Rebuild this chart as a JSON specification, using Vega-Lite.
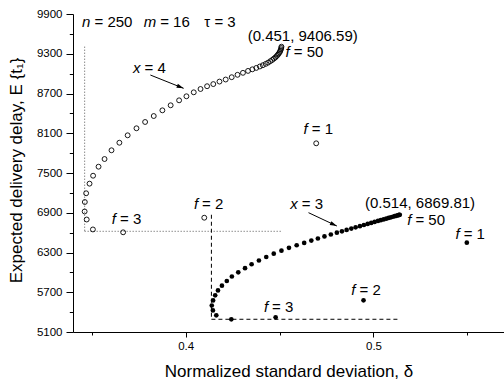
{
  "$schema": "https://vega.github.io/schema/vega-lite/v6.json",
  "width": 431,
  "height": 318,
  "autosize": {"type": "none"},
  "padding": {"left": 73, "top": 14, "right": 0, "bottom": 53},
  "config": {
    "view": {"stroke": null},
    "font": "Liberation Sans",
    "axis": {
      "domainColor": "black", "tickColor": "black", "labelColor": "black", "titleColor": "black",
      "labelFont": "Liberation Sans", "titleFont": "Liberation Sans",
      "labelFontSize": 11.5, "titleFontSize": 17, "titleFontWeight": "normal",
      "grid": false, "domainWidth": 1, "tickWidth": 1
    },
    "text": {"font": "Liberation Sans", "fontSize": 15, "color": "black"}
  },
  "resolve": {"axis": {"y": "independent"}},
  "datasets": {
    "pts": [
      {"s": "o", "f": 1, "d": 0.4695, "e": 7948},
      {"s": "o", "f": 2, "d": 0.4099, "e": 6825},
      {"s": "o", "f": 3, "d": 0.3667, "e": 6605},
      {"s": "o", "f": 4, "d": 0.3506, "e": 6648},
      {"s": "o", "f": 5, "d": 0.3473, "e": 6798},
      {"s": "o", "f": 6, "d": 0.3462, "e": 6919},
      {"s": "o", "f": 7, "d": 0.3463, "e": 7062},
      {"s": "o", "f": 8, "d": 0.3470, "e": 7194},
      {"s": "o", "f": 9, "d": 0.3488, "e": 7339},
      {"s": "o", "f": 10, "d": 0.3507, "e": 7459},
      {"s": "o", "f": 11, "d": 0.3536, "e": 7595},
      {"s": "o", "f": 12, "d": 0.3568, "e": 7711},
      {"s": "o", "f": 13, "d": 0.3605, "e": 7843},
      {"s": "o", "f": 14, "d": 0.3647, "e": 7957},
      {"s": "o", "f": 15, "d": 0.3691, "e": 8069},
      {"s": "o", "f": 16, "d": 0.3738, "e": 8175},
      {"s": "o", "f": 17, "d": 0.3784, "e": 8270},
      {"s": "o", "f": 18, "d": 0.3830, "e": 8360},
      {"s": "o", "f": 19, "d": 0.3876, "e": 8446},
      {"s": "o", "f": 20, "d": 0.3920, "e": 8522},
      {"s": "o", "f": 21, "d": 0.3965, "e": 8597},
      {"s": "o", "f": 22, "d": 0.4004, "e": 8658},
      {"s": "o", "f": 23, "d": 0.4043, "e": 8718},
      {"s": "o", "f": 24, "d": 0.4079, "e": 8768},
      {"s": "o", "f": 25, "d": 0.4114, "e": 8810},
      {"s": "o", "f": 26, "d": 0.4147, "e": 8842},
      {"s": "o", "f": 27, "d": 0.4180, "e": 8880},
      {"s": "o", "f": 28, "d": 0.4213, "e": 8911},
      {"s": "o", "f": 29, "d": 0.4245, "e": 8946},
      {"s": "o", "f": 30, "d": 0.4276, "e": 8982},
      {"s": "o", "f": 31, "d": 0.4305, "e": 9012},
      {"s": "o", "f": 32, "d": 0.4332, "e": 9041},
      {"s": "o", "f": 33, "d": 0.4355, "e": 9065},
      {"s": "o", "f": 34, "d": 0.4376, "e": 9086},
      {"s": "o", "f": 35, "d": 0.4395, "e": 9108},
      {"s": "o", "f": 36, "d": 0.4411, "e": 9127},
      {"s": "o", "f": 37, "d": 0.4426, "e": 9147},
      {"s": "o", "f": 38, "d": 0.4439, "e": 9166},
      {"s": "o", "f": 39, "d": 0.4451, "e": 9188},
      {"s": "o", "f": 40, "d": 0.4461, "e": 9207},
      {"s": "o", "f": 41, "d": 0.4470, "e": 9227},
      {"s": "o", "f": 42, "d": 0.4478, "e": 9246},
      {"s": "o", "f": 43, "d": 0.4485, "e": 9266},
      {"s": "o", "f": 44, "d": 0.4491, "e": 9286},
      {"s": "o", "f": 45, "d": 0.4496, "e": 9305},
      {"s": "o", "f": 46, "d": 0.4501, "e": 9325},
      {"s": "o", "f": 47, "d": 0.4504, "e": 9345},
      {"s": "o", "f": 48, "d": 0.4507, "e": 9366},
      {"s": "o", "f": 49, "d": 0.4509, "e": 9387},
      {"s": "o", "f": 50, "d": 0.451, "e": 9406.59},
      {"s": "c", "f": 1, "d": 0.5497, "e": 6448},
      {"s": "c", "f": 2, "d": 0.4947, "e": 5578},
      {"s": "c", "f": 3, "d": 0.4479, "e": 5322},
      {"s": "c", "f": 4, "d": 0.4243, "e": 5292},
      {"s": "c", "f": 5, "d": 0.4163, "e": 5352},
      {"s": "c", "f": 6, "d": 0.4145, "e": 5425},
      {"s": "c", "f": 7, "d": 0.4139, "e": 5500},
      {"s": "c", "f": 8, "d": 0.4146, "e": 5576},
      {"s": "c", "f": 9, "d": 0.4157, "e": 5654},
      {"s": "c", "f": 10, "d": 0.4172, "e": 5727},
      {"s": "c", "f": 11, "d": 0.4193, "e": 5799},
      {"s": "c", "f": 12, "d": 0.4219, "e": 5870},
      {"s": "c", "f": 13, "d": 0.4246, "e": 5938},
      {"s": "c", "f": 14, "d": 0.4280, "e": 6001},
      {"s": "c", "f": 15, "d": 0.4316, "e": 6063},
      {"s": "c", "f": 16, "d": 0.4351, "e": 6123},
      {"s": "c", "f": 17, "d": 0.4390, "e": 6179},
      {"s": "c", "f": 18, "d": 0.4429, "e": 6232},
      {"s": "c", "f": 19, "d": 0.4469, "e": 6282},
      {"s": "c", "f": 20, "d": 0.4510, "e": 6327},
      {"s": "c", "f": 21, "d": 0.4550, "e": 6370},
      {"s": "c", "f": 22, "d": 0.4591, "e": 6409},
      {"s": "c", "f": 23, "d": 0.4631, "e": 6445},
      {"s": "c", "f": 24, "d": 0.4669, "e": 6480},
      {"s": "c", "f": 25, "d": 0.4704, "e": 6511},
      {"s": "c", "f": 26, "d": 0.4739, "e": 6543},
      {"s": "c", "f": 27, "d": 0.4773, "e": 6572},
      {"s": "c", "f": 28, "d": 0.4805, "e": 6599},
      {"s": "c", "f": 29, "d": 0.4832, "e": 6620},
      {"s": "c", "f": 30, "d": 0.4857, "e": 6641},
      {"s": "c", "f": 31, "d": 0.4882, "e": 6661},
      {"s": "c", "f": 32, "d": 0.4905, "e": 6680},
      {"s": "c", "f": 33, "d": 0.4928, "e": 6698},
      {"s": "c", "f": 34, "d": 0.4949, "e": 6715},
      {"s": "c", "f": 35, "d": 0.4969, "e": 6731},
      {"s": "c", "f": 36, "d": 0.4988, "e": 6747},
      {"s": "c", "f": 37, "d": 0.5006, "e": 6762},
      {"s": "c", "f": 38, "d": 0.5024, "e": 6776},
      {"s": "c", "f": 39, "d": 0.5039, "e": 6788},
      {"s": "c", "f": 40, "d": 0.5054, "e": 6800},
      {"s": "c", "f": 41, "d": 0.5068, "e": 6811},
      {"s": "c", "f": 42, "d": 0.5081, "e": 6822},
      {"s": "c", "f": 43, "d": 0.5093, "e": 6831},
      {"s": "c", "f": 44, "d": 0.5103, "e": 6840},
      {"s": "c", "f": 45, "d": 0.5113, "e": 6848},
      {"s": "c", "f": 46, "d": 0.5121, "e": 6854},
      {"s": "c", "f": 47, "d": 0.5129, "e": 6861},
      {"s": "c", "f": 48, "d": 0.5134, "e": 6865},
      {"s": "c", "f": 49, "d": 0.5137, "e": 6867},
      {"s": "c", "f": 50, "d": 0.514, "e": 6869.81}
    ],
    "lines": [
      {"k": "dot", "x1": 0.3462, "y1": 9406.59, "x2": 0.3462, "y2": 6620},
      {"k": "dot", "x1": 0.3462, "y1": 6620, "x2": 0.451, "y2": 6620},
      {"k": "dash", "x1": 0.4137, "y1": 6869.81, "x2": 0.4137, "y2": 5292},
      {"k": "dash", "x1": 0.4137, "y1": 5292, "x2": 0.514, "y2": 5292}
    ],
    "arrows": [
      {"id": "x4", "x1": 0.3812, "y1": 8979, "x2": 0.3989, "y2": 8778},
      {"id": "x3", "x1": 0.4654, "y1": 6901, "x2": 0.4805, "y2": 6700}
    ],
    "labels": [
      {"x": 0.3493, "y": 9784, "it": "n", "rest": "= 250"},
      {"x": 0.3843, "y": 9784, "it": "m", "rest": "= 16"},
      {"x": 0.4078, "y": 9784, "it": "", "rest": "τ = 3"},
      {"x": 0.3760, "y": 9085, "it": "x", "rest": "= 4"},
      {"x": 0.4554, "y": 9319, "it": "f", "rest": "= 50"},
      {"x": 0.4650, "y": 8164, "it": "f", "rest": "= 1"},
      {"x": 0.4066, "y": 7032, "it": "f", "rest": "= 2"},
      {"x": 0.3629, "y": 6801, "it": "f", "rest": "= 3"},
      {"x": 0.4597, "y": 7032, "it": "x", "rest": "= 3"},
      {"x": 0.5202, "y": 6791, "it": "f", "rest": "= 50"},
      {"x": 0.5459, "y": 6575, "it": "f", "rest": "= 1"},
      {"x": 0.4904, "y": 5734, "it": "f", "rest": "= 2"},
      {"x": 0.4439, "y": 5482, "it": "f", "rest": "= 3"}
    ],
    "coords": [
      {"x": 0.4623, "y": 9568, "t": "(0.451, 9406.59)"},
      {"x": 0.5248, "y": 7052, "t": "(0.514, 6869.81)"}
    ]
  },
  "layer": [
    {
      "data": {"name": "lines"},
      "mark": {"type": "rule", "strokeWidth": 1},
      "encoding": {
        "x": {"field": "x1", "type": "quantitative", "scale": {"domain": [0.34, 0.5695], "nice": false, "zero": false},
          "axis": {
            "values": [0.35, 0.4, 0.45, 0.5, 0.55],
            "labelExpr": "datum.value == 0.4 || datum.value == 0.5 ? format(datum.value, '.1f') : ''",
            "tickSize": {"condition": {"test": "datum.value == 0.4 || datum.value == 0.5", "value": 5}, "value": 3},
            "labelPadding": 3,
            "labelOverlap": false,
            "title": "Normalized standard deviation, δ",
            "titlePadding": 12
          }},
        "x2": {"field": "x2"},
        "y": {"field": "y1", "type": "quantitative", "scale": {"domain": [5100, 9900], "nice": false, "zero": false},
          "axis": {
            "orient": "left",
            "values": [5100, 5700, 6300, 6900, 7500, 8100, 8700, 9300, 9900],
            "tickSize": 7,
            "labelPadding": 4,
            "labelOverlap": false,
            "format": "d",
            "title": "Expected delivery delay, E {t₁}",
            "titlePadding": 11,
            "titleY": 156
          }},
        "y2": {"field": "y2"},
        "color": {"condition": {"test": "datum.k == 'dot'", "value": "#555555"}, "value": "black"},
        "strokeDash": {"condition": {"test": "datum.k == 'dot'", "value": [1, 2]}, "value": [4, 3]}
      }
    },
    {
      "data": {"name": "pts"},
      "transform": [{"filter": "datum.s == 'o'"}],
      "mark": {"type": "point", "shape": "circle", "filled": false, "stroke": "black", "strokeWidth": 0.9, "size": 24, "opacity": 1},
      "encoding": {
        "x": {"field": "d", "type": "quantitative"},
        "y": {"field": "e", "type": "quantitative",
          "axis": {"orient": "left", "values": [5400, 6000, 6600, 7200, 7800, 8400, 9000, 9600], "labels": false, "domain": false, "tickSize": 3.7, "title": null}}
      }
    },
    {
      "data": {"name": "pts"},
      "transform": [{"filter": "datum.s == 'c'"}],
      "mark": {"type": "circle", "color": "black", "size": 22, "opacity": 1},
      "encoding": {
        "x": {"field": "d", "type": "quantitative"},
        "y": {"field": "e", "type": "quantitative", "axis": null}
      }
    },
    {
      "data": {"name": "arrows"},
      "mark": {"type": "rule", "color": "black", "strokeWidth": 1},
      "encoding": {
        "x": {"field": "x1", "type": "quantitative"},
        "x2": {"field": "x2"},
        "y": {"field": "y1", "type": "quantitative", "axis": null},
        "y2": {"field": "y2"}
      }
    },
    {
      "data": {"name": "arrows"},
      "mark": {"type": "point", "shape": "M0,0 L-2,-0.6 L-2,0.6 Z", "filled": true, "color": "black", "size": 49, "opacity": 1},
      "encoding": {
        "x": {"field": "x2", "type": "quantitative"},
        "y": {"field": "y2", "type": "quantitative", "axis": null},
        "angle": {"condition": {"test": "datum.id == 'x4'", "value": 21.8}, "value": 25}
      }
    },
    {
      "data": {"name": "labels"},
      "mark": {"type": "text", "align": "right", "baseline": "middle", "fontStyle": "italic"},
      "encoding": {
        "x": {"field": "x", "type": "quantitative"},
        "y": {"field": "y", "type": "quantitative", "axis": null},
        "text": {"field": "it"}
      }
    },
    {
      "data": {"name": "labels"},
      "mark": {"type": "text", "align": "left", "baseline": "middle", "dx": 4},
      "encoding": {
        "x": {"field": "x", "type": "quantitative"},
        "y": {"field": "y", "type": "quantitative", "axis": null},
        "text": {"field": "rest"}
      }
    },
    {
      "data": {"name": "coords"},
      "mark": {"type": "text", "align": "center", "baseline": "middle"},
      "encoding": {
        "x": {"field": "x", "type": "quantitative"},
        "y": {"field": "y", "type": "quantitative", "axis": null},
        "text": {"field": "t"}
      }
    }
  ]
}
